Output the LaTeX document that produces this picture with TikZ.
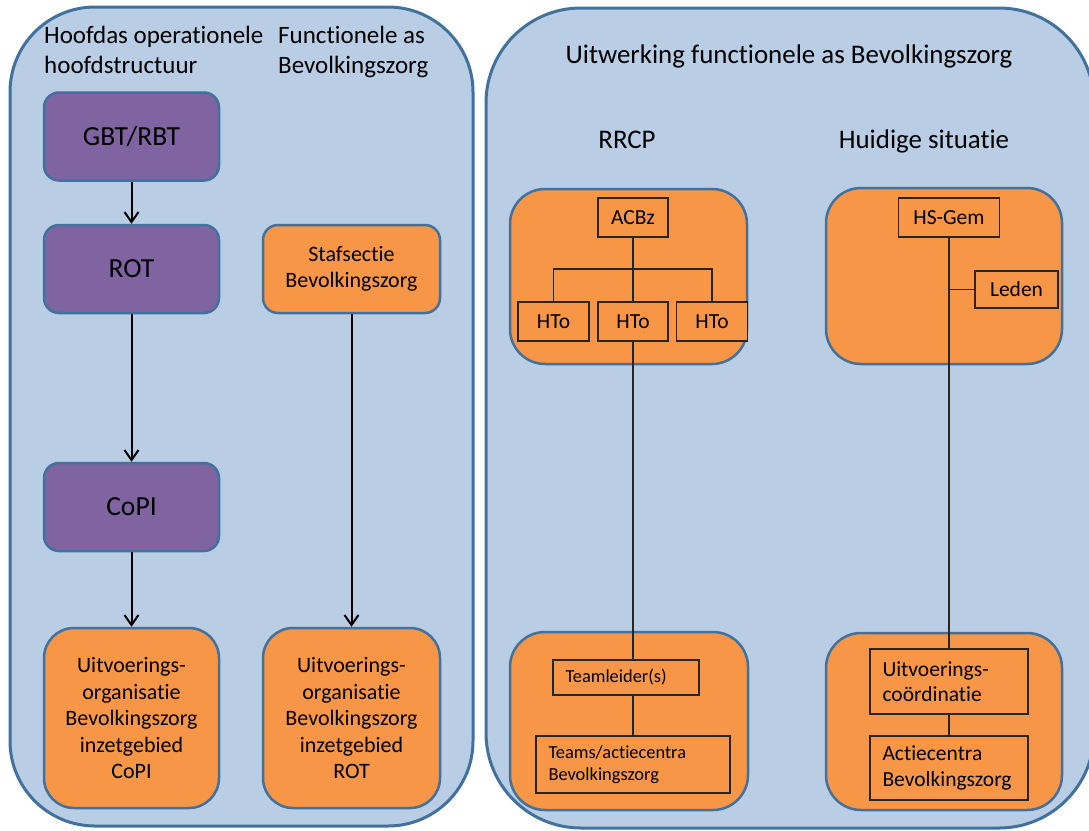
\documentclass[tikz,border=0pt]{standalone}
\usepackage{fontspec}
\setmainfont{Carlito}[Ligatures=NoCommon]
\usetikzlibrary{arrows.meta}
\usepackage{xcolor}

\definecolor{paneelblauw}{HTML}{B9CDE5}
\definecolor{randblauw}{HTML}{41719C}
\definecolor{paars}{HTML}{8064A2}
\definecolor{oranje}{HTML}{F79646}

\newcommand\kopfont{\fontsize{25}{30}\selectfont}
\newcommand\titelfont{\fontsize{26.9}{32}\selectfont}
\newcommand\blokfont{\fontsize{22}{26.5}\selectfont}
\newcommand\kaderfont{\fontsize{21.5}{25.5}\selectfont}
\newcommand\kleinfont{\fontsize{18.4}{22}\selectfont}

\begin{document}
\begin{tikzpicture}[x=1pt,y=-1pt,
    paneel/.style={draw=randblauw,fill=paneelblauw,line width=3pt,rounded corners=#1},
    groep/.style={draw=randblauw,fill=oranje,line width=2.5pt,rounded corners=35pt},
    blok/.style={draw=randblauw,line width=2.5pt,rounded corners=15pt,
      minimum width=175pt,minimum height=88pt,align=center,inner sep=0pt},
    paarsblok/.style={blok,fill=paars,font=\fontsize{27.6}{32}\selectfont},
    oranjeblok/.style={blok,fill=oranje,font=\blokfont},
    kader/.style={draw=black!85,line width=1.2pt,fill=oranje,inner sep=0pt,font=\kaderfont},
    pijl/.style={line width=2pt,-{Straight Barb[length=10pt,width=14pt]}},
    lijn/.style={draw=black!85,line width=1.2pt}]
  \useasboundingbox (0,0) rectangle (1089,830);
  \fill[white] (0,0) rectangle (1089,830);

  % Panelen
  \draw[paneel=85pt] (10,7) rectangle (473,826);
  \draw[paneel=95pt] (486,8) rectangle (1094,828);

  % Hoofdas en functionele as
  \node[anchor=north west,align=left,inner sep=0pt,font=\kopfont] (hoofdas) at (44,26)
    {Hoofdas operationele\\hoofdstructuur};
  \node[anchor=north west,align=left,inner sep=0pt,font=\kopfont] (functioneel) at (278,26)
    {Functionele as\\Bevolkingszorg};

  \node[paarsblok] (gbt) at (131.5,136.5) {GBT/RBT};
  \node[paarsblok] (rot) at (131.5,269) {ROT};
  \node[paarsblok] (copi) at (131.5,507) {CoPI};
  \node[oranjeblok,minimum height=180pt,rounded corners=30pt] (uitcopi) at (131.5,718)
    {Uitvoerings-\\organisatie\\Bevolkingszorg\\inzetgebied\\CoPI};

  \node[oranjeblok,minimum width=177pt] (staf) at (351.5,269) {Stafsectie\\Bevolkingszorg};
  \node[oranjeblok,minimum width=177pt,minimum height=180pt,rounded corners=30pt] (uitrot) at (351.5,718)
    {Uitvoerings-\\organisatie\\Bevolkingszorg\\inzetgebied\\ROT};

  \draw[pijl] (gbt) -- (rot);
  \draw[pijl] (rot) -- (copi);
  \draw[pijl] (copi) -- (uitcopi);
  \draw[pijl] (staf) -- (uitrot);

  % Uitwerking
  \node[anchor=base,font=\titelfont] (uitwerking) at (789,63) {Uitwerking functionele as Bevolkingszorg};
  \node[anchor=base,font=\titelfont] (rrcp) at (627,148) {RRCP};
  \node[anchor=base,font=\titelfont] (huidig) at (924,148) {Huidige situatie};

  \draw[groep] (510,189) rectangle (747,364);
  \draw[groep] (510,632) rectangle (748,810);
  \draw[groep] (826,188) rectangle (1062,364);
  \draw[groep] (826,633) rectangle (1062,810);

  % RRCP
  \node[kader,minimum width=70pt,minimum height=39pt] (acbz) at (633,217.5) {ACBz};
  \node[kader,minimum width=71pt,minimum height=39pt] (hto1) at (553.5,321.5) {HTo};
  \node[kader,minimum width=70pt,minimum height=39pt] (hto2) at (633,321.5) {HTo};
  \node[kader,minimum width=71pt,minimum height=39pt] (hto3) at (712,321.5) {HTo};
  \node[kader,font=\kleinfont,text width=121pt,inner xsep=12.5pt,minimum height=35pt,align=left]
    (teamleider) at (626,677.5) {Teamleider(s)};
  \node[kader,font=\kleinfont,text width=169pt,inner xsep=12.5pt,minimum height=57pt,align=left]
    (teams) at (633,764.5) {Teams/actiecentra\\Bevolkingszorg};

  \coordinate (tak) at (633,269);
  \draw[lijn] (acbz) -- (hto2);
  \draw[lijn] (hto1.north) |- (tak) -| (hto3.north);
  \draw[lijn] (hto2.south) -- (hto2.south |- teamleider.north);
  \draw[lijn] (hto2.south |- teamleider.south) -- (teams.north);

  % Huidige situatie
  \node[kader,minimum width=101pt,minimum height=39pt] (hsgem) at (949,217.5) {HS-Gem};
  \node[kader,minimum width=83pt,minimum height=37pt] (leden) at (1016.5,289.5) {Leden};
  \node[kader,text width=133pt,inner xsep=12.5pt,minimum height=65pt,align=left]
    (uitco) at (949,681.5) {Uitvoerings-\\coördinatie};
  \node[kader,text width=133pt,inner xsep=12.5pt,minimum height=64pt,align=left]
    (actie) at (949,768) {Actiecentra\\Bevolkingszorg};

  \draw[lijn] (hsgem) -- (uitco);
  \draw[lijn] (hsgem.south |- leden.west) -- (leden.west);
  \draw[lijn] (uitco) -- (actie);
\end{tikzpicture}
\end{document}
